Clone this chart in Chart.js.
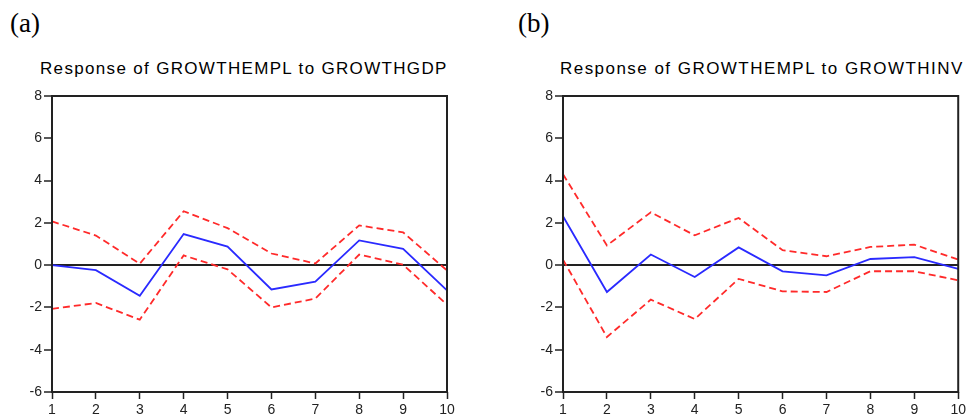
<!DOCTYPE html>
<html><head><meta charset="utf-8">
<script src="https://cdn.jsdelivr.net/npm/chart.js@4.4.1/dist/chart.umd.min.js"></script>
<style>
html,body{margin:0;padding:0;background:#fff;}
body{width:969px;height:419px;position:relative;overflow:hidden;}
.panel{position:absolute;font-family:'Liberation Serif','Times New Roman',serif;font-size:27px;line-height:27px;color:#000;}
.ttl{position:absolute;font-family:'Liberation Sans',Arial,sans-serif;font-size:17px;line-height:17px;color:#000;white-space:nowrap;}
.box{position:absolute;}
canvas{display:block;}
</style></head><body>
<div class="panel" style="left:10px;top:10px">(a)</div>
<div class="panel" style="left:518px;top:10px">(b)</div>
<div class="ttl" id="t1" style="left:40px;top:60px">Response of GROWTHEMPL to GROWTHGDP</div>
<div class="ttl" id="t2" style="left:560px;top:60px">Response of GROWTHEMPL to GROWTHINV</div>
<div class="box" style="left:0;top:85px;"><canvas id="c1" width="484" height="334"></canvas></div>
<div class="box" style="left:500px;top:85px;"><canvas id="c2" width="469" height="334"></canvas></div>
<script>
// ---- data ----
const periods = ['1','2','3','4','5','6','7','8','9','10'];
const yTicks = [-6, -4, -2, 0, 2, 4, 6, 8];

const gdpResponse = [0, -0.24, -1.45, 1.47, 0.88, -1.15, -0.78, 1.17, 0.77, -1.19];
const gdpUpper    = [2.07, 1.40, 0.07, 2.55, 1.75, 0.55, 0.08, 1.88, 1.55, -0.25];
const gdpLower    = [-2.07, -1.79, -2.58, 0.46, -0.20, -2.00, -1.58, 0.50, 0.02, -1.87];

const invResponse = [2.31, -1.27, 0.50, -0.56, 0.84, -0.29, -0.48, 0.29, 0.38, -0.18];
const invUpper    = [4.30, 0.93, 2.50, 1.41, 2.23, 0.71, 0.42, 0.86, 0.97, 0.26];
const invLower    = [0.26, -3.40, -1.63, -2.55, -0.65, -1.24, -1.27, -0.29, -0.29, -0.72];

// ---- title letter spacing ----
function fitTitle(id, target){
  const el = document.getElementById(id);
  const c = document.createElement('canvas').getContext('2d');
  c.font = "17px 'Liberation Sans'";
  const t = el.textContent;
  const w = c.measureText(t).width;
  el.style.letterSpacing = ((target - w) / (t.length - 1)) + 'px';
}
fitTitle('t1', 407);
fitTitle('t2', 403);

const framePlugin = {
  id: 'frame',
  afterDatasetsDraw(chart){
    const {ctx, chartArea: a} = chart;
    ctx.save();
    ctx.strokeStyle = '#222';
    ctx.lineWidth = 2;
    ctx.strokeRect(a.left, a.top, a.right - a.left, a.bottom - a.top);
    ctx.restore();
  }
};

function makeChart(id, resp, upper, lower, padLeft, padRight){
  const red = '#ff2a2a', blue = '#2a2aff';
  const tickFont = {family: "'Liberation Sans', Arial, sans-serif", size: 14};
  return new Chart(document.getElementById(id), {
    type: 'line',
    data: {
      labels: periods,
      datasets: [
        {data: upper, borderColor: red, borderWidth: 1.8, borderDash: [7,4], pointRadius: 0, tension: 0, fill: false},
        {data: lower, borderColor: red, borderWidth: 1.8, borderDash: [7,4], pointRadius: 0, tension: 0, fill: false},
        {data: resp, borderColor: blue, borderWidth: 1.8, pointRadius: 0, tension: 0, fill: false}
      ]
    },
    options: {
      responsive: false,
      animation: false,
      events: [],
      layout: {padding: {left: padLeft, right: padRight, top: 11, bottom: 0}},
      plugins: {legend: {display: false}, title: {display: false}, tooltip: {enabled: false}},
      scales: {
        x: {
          type: 'category',
          offset: false,
          afterFit(s){ s.height = 27; },
          grid: {display: true, drawOnChartArea: false, drawTicks: true, tickLength: 7, tickColor: '#222', tickWidth: 1.5},
          border: {display: false},
          ticks: {autoSkip: false, maxRotation: 0, padding: 3, color: '#222', font: tickFont}
        },
        y: {
          min: -6, max: 8,
          afterFit(s){ s.width = 52; },
          afterBuildTicks(s){ s.ticks = yTicks.map(v => ({value: v})); },
          grid: {
            display: true, drawOnChartArea: true, drawTicks: true, tickLength: 8,
            tickColor: '#222', tickWidth: 1.5,
            color: c => (c.tick && c.tick.value === 0) ? '#222' : 'rgba(0,0,0,0)',
            lineWidth: c => (c.tick && c.tick.value === 0) ? 2 : 0
          },
          border: {display: false},
          ticks: {padding: 2, color: '#222', font: tickFont}
        }
      }
    },
    plugins: [framePlugin]
  });
}

makeChart('c1', gdpResponse, gdpUpper, gdpLower, 0, 37);
makeChart('c2', invResponse, invUpper, invLower, 11, 9);
</script>
</body></html>
